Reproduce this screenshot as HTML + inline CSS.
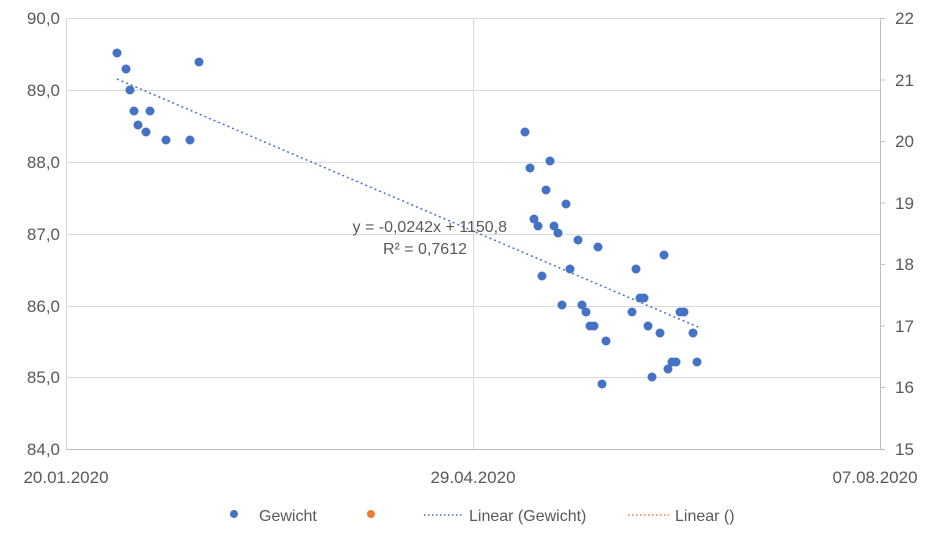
<!DOCTYPE html><html><head><style>body{margin:0;background:#fff}svg text{font-family:"Liberation Sans",sans-serif;fill:#595959}</style></head><body>
<svg width="942" height="538" xmlns="http://www.w3.org/2000/svg">
<g stroke="#d9d9d9" stroke-width="1">
<line x1="66" y1="18.5" x2="880" y2="18.5"/><line x1="66" y1="90.5" x2="880" y2="90.5"/><line x1="66" y1="162.5" x2="880" y2="162.5"/><line x1="66" y1="234.5" x2="880" y2="234.5"/><line x1="66" y1="306.5" x2="880" y2="306.5"/><line x1="66" y1="377.5" x2="880" y2="377.5"/>
<line x1="66.5" y1="18" x2="66.5" y2="449"/><line x1="473.5" y1="18" x2="473.5" y2="449"/>
</g>
<g stroke="#bfbfbf"><line x1="66" y1="449.5" x2="880" y2="449.5"/><line x1="880.5" y1="18" x2="880.5" y2="449"/>
<line x1="880" y1="18.5" x2="885" y2="18.5"/><line x1="880" y1="80" x2="885" y2="80"/><line x1="880" y1="141.5" x2="885" y2="141.5"/><line x1="880" y1="203" x2="885" y2="203"/><line x1="880" y1="264.5" x2="885" y2="264.5"/><line x1="880" y1="326" x2="885" y2="326"/><line x1="880" y1="387.5" x2="885" y2="387.5"/><line x1="880" y1="449.5" x2="885" y2="449.5"/></g>
<g font-size="17" text-anchor="end"><text x="60" y="24">90,0</text><text x="60" y="96">89,0</text><text x="60" y="168">88,0</text><text x="60" y="240">87,0</text><text x="60" y="312">86,0</text><text x="60" y="383">85,0</text><text x="60" y="455">84,0</text></g>
<g font-size="17"><text x="895" y="24">22</text><text x="895" y="86">21</text><text x="895" y="147">20</text><text x="895" y="209">19</text><text x="895" y="270">18</text><text x="895" y="332">17</text><text x="895" y="393">16</text><text x="895" y="455">15</text></g>
<g font-size="17" text-anchor="middle"><text x="66" y="483">20.01.2020</text><text x="473" y="483">29.04.2020</text><text x="875" y="483">07.08.2020</text></g>
<line x1="117" y1="79" x2="698" y2="327" stroke="#4472c4" stroke-width="1.5" stroke-dasharray="2,3"/>
<g fill="#4472c4">
<circle cx="117" cy="53" r="4.5"/><circle cx="126" cy="69" r="4.5"/><circle cx="130" cy="90" r="4.5"/><circle cx="134" cy="111" r="4.5"/><circle cx="150" cy="111" r="4.5"/><circle cx="138" cy="125" r="4.5"/><circle cx="146" cy="132" r="4.5"/><circle cx="166" cy="140" r="4.5"/><circle cx="190" cy="140" r="4.5"/><circle cx="199" cy="62" r="4.5"/>
<circle cx="525" cy="132" r="4.5"/><circle cx="530" cy="168" r="4.5"/><circle cx="550" cy="161" r="4.5"/><circle cx="546" cy="190" r="4.5"/><circle cx="566" cy="204" r="4.5"/><circle cx="534" cy="219" r="4.5"/><circle cx="538" cy="226" r="4.5"/><circle cx="554" cy="226" r="4.5"/><circle cx="558" cy="233" r="4.5"/><circle cx="578" cy="240" r="4.5"/><circle cx="598" cy="247" r="4.5"/><circle cx="570" cy="269" r="4.5"/><circle cx="542" cy="276" r="4.5"/><circle cx="562" cy="305" r="4.5"/><circle cx="582" cy="305" r="4.5"/><circle cx="586" cy="312" r="4.5"/><circle cx="590" cy="326" r="4.5"/><circle cx="594" cy="326" r="4.5"/><circle cx="606" cy="341" r="4.5"/><circle cx="602" cy="384" r="4.5"/><circle cx="636" cy="269" r="4.5"/><circle cx="664" cy="255" r="4.5"/><circle cx="640" cy="298" r="4.5"/><circle cx="644" cy="298" r="4.5"/><circle cx="632" cy="312" r="4.5"/><circle cx="648" cy="326" r="4.5"/><circle cx="660" cy="333" r="4.5"/><circle cx="680" cy="312" r="4.5"/><circle cx="684" cy="312" r="4.5"/><circle cx="693" cy="333" r="4.5"/><circle cx="652" cy="377" r="4.5"/><circle cx="668" cy="369" r="4.5"/><circle cx="672" cy="362" r="4.5"/><circle cx="676" cy="362" r="4.5"/><circle cx="697" cy="362" r="4.5"/>
</g>
<g font-size="16" text-anchor="end"><text x="507" y="232">y = -0,0242x + 1150,8</text><text x="467" y="254">R² = 0,7612</text></g>
<circle cx="234" cy="514" r="4" fill="#4472c4"/><text x="259" y="521" font-size="16">Gewicht</text>
<circle cx="371" cy="514" r="4" fill="#ed7d31"/>
<line x1="424" y1="515" x2="462" y2="515" stroke="#4472c4" stroke-width="1.5" stroke-dasharray="1.5,2.5"/><text x="469" y="521" font-size="16">Linear (Gewicht)</text>
<line x1="628" y1="515" x2="669" y2="515" stroke="#ed7d31" stroke-width="1.5" stroke-dasharray="1.5,2.5"/><text x="675" y="521" font-size="16">Linear ()</text>
</svg></body></html>
